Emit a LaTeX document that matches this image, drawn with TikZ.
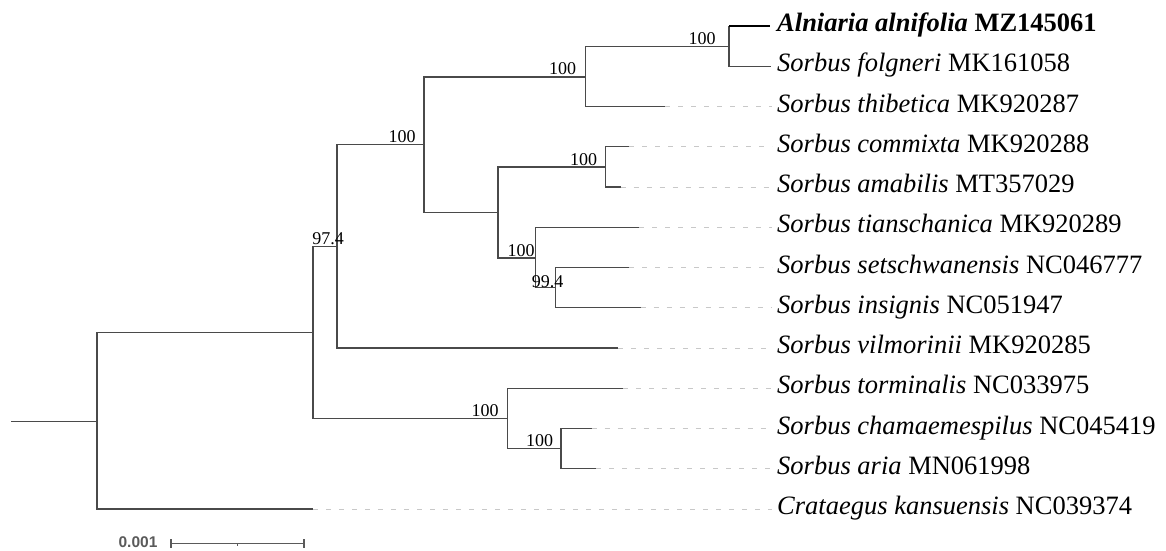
\documentclass[tikz,border=0pt]{standalone}
\usepackage{fontspec}
\setmainfont{Liberation Serif}
\setsansfont{Liberation Sans}
\definecolor{treegray}{HTML}{4A4A4A}
\definecolor{dashgray}{HTML}{C8C8C8}
\definecolor{scalegray}{HTML}{5A5A5A}
\begin{document}
\begin{tikzpicture}[x=1pt,y=-1pt,
  branch/.style={draw=treegray,line width=1.3pt},
  focal/.style={draw=black,line width=2.6pt},
  leader/.style={draw=dashgray,line width=1pt,dash pattern=on 5pt off 8pt,shorten >=5pt},
  taxon/.style={anchor=base west,inner sep=0pt,font=\fontsize{26.5}{30}\selectfont},
  support/.style={anchor=base,inner sep=0pt,font=\fontsize{18}{20}\selectfont},
  scalelab/.style={anchor=base,inner sep=0pt,text=scalegray,font=\sffamily\bfseries\fontsize{15.5}{18}\selectfont},
  scalebar/.style={draw=scalegray,line width=1.1pt}]
\useasboundingbox (0,0) rectangle (1166,550);

% internal nodes
\coordinate (S0) at (11,421.7);
\coordinate (R) at (97,421.7);
\coordinate (B) at (313,332.8);
\coordinate (C) at (337,246.5);
\coordinate (D) at (424,144.8);
\coordinate (E) at (585.7,77);
\coordinate (H) at (729,46.2);
\coordinate (F) at (498,212.6);
\coordinate (I) at (605.7,166.9);
\coordinate (J) at (535.7,258);
\coordinate (K) at (555.5,287.6);
\coordinate (G) at (507.7,418.6);
\coordinate (L) at (561,448.6);

% tip ends
\coordinate (e1) at (770,26);
\coordinate (e2) at (771,66.25);
\coordinate (e3) at (665,106.5);
\coordinate (e4) at (629,146.75);
\coordinate (e5) at (620.7,187);
\coordinate (e6) at (639,227.25);
\coordinate (e7) at (629,267.5);
\coordinate (e8) at (640.7,307.75);
\coordinate (e9) at (618,348);
\coordinate (e10) at (623.3,388.25);
\coordinate (e11) at (591.7,428.5);
\coordinate (e12) at (596,468.75);
\coordinate (e13) at (313,509);

% taxon labels
\node[taxon] (t1) at (777,31.5) {\textbf{\textit{Alniaria alnifolia} MZ145061}};
\node[taxon] (t2) at (777,71.75) {\textit{Sorbus folgneri} MK161058};
\node[taxon] (t3) at (777,112) {\textit{Sorbus thibetica} MK920287};
\node[taxon] (t4) at (777,152.25) {\textit{Sorbus commixta} MK920288};
\node[taxon] (t5) at (777,192.5) {\textit{Sorbus amabilis} MT357029};
\node[taxon] (t6) at (777,232.75) {\textit{Sorbus tianschanica} MK920289};
\node[taxon] (t7) at (777,273) {\textit{Sorbus setschwanensis} NC046777};
\node[taxon] (t8) at (777,313.25) {\textit{Sorbus insignis} NC051947};
\node[taxon] (t9) at (777,353.5) {\textit{Sorbus vilmorinii} MK920285};
\node[taxon] (t10) at (777,393.75) {\textit{Sorbus torminalis} NC033975};
\node[taxon] (t11) at (777,434) {\textit{Sorbus chamaemespilus} NC045419};
\node[taxon] (t12) at (777,474.25) {\textit{Sorbus aria} MN061998};
\node[taxon] (t13) at (777,514.5) {\textit{Crataegus kansuensis} NC039374};

% branches
\draw[branch] (S0) -- (R);
\draw[branch] (R) |- (B);
\draw[branch] (R) |- (e13);
\draw[branch] (B) |- (C);
\draw[branch] (B) |- (G);
\draw[branch] (C) |- (D);
\draw[branch] (C) |- (e9);
\draw[branch] (D) |- (E);
\draw[branch] (D) |- (F);
\draw[branch] (E) |- (H);
\draw[branch] (E) |- (e3);
\draw[branch] (H) |- (e2);
\draw[branch] (H |- e1) -- (H);
\draw[focal,line cap=butt] (H |- e1) -- (e1);
\draw[branch] (F) |- (I);
\draw[branch] (F) |- (J);
\draw[branch] (I) |- (e4);
\draw[branch] (I) |- (e5);
\draw[branch] (J) |- (e6);
\draw[branch] (J) |- (K);
\draw[branch] (K) |- (e7);
\draw[branch] (K) |- (e8);
\draw[branch] (G) |- (e10);
\draw[branch] (G) |- (L);
\draw[branch] (L) |- (e11);
\draw[branch] (L) |- (e12);

% leaders
\foreach \i in {3,...,13}{
  \draw[leader] (e\i) -- (e\i -| t\i.west);
}

% support values
\node[support] (s1) at (702,44) {100};
\node[support] (s2) at (562.5,74.5) {100};
\node[support] (s3) at (402,142.8) {100};
\node[support] (s4) at (328,244.5) {97.4};
\node[support] (s5) at (583.5,165) {100};
\node[support] (s6) at (521,256) {100};
\node[support] (s7) at (547.5,287) {99.4};
\node[support] (s8) at (485,416.8) {100};
\node[support] (s9) at (539.7,446.8) {100};

% scale bar
\coordinate (sb1) at (171,543.2);
\coordinate (sb2) at (304,543.2);
\coordinate (sbm) at (237.7,543.2);
\draw[scalebar] (sb1) -- (sb2);
\draw[scalebar] ([yshift=-4.3pt]sb1) -- ([yshift=4.3pt]sb1);
\draw[scalebar] ([yshift=-4.3pt]sb2) -- ([yshift=4.3pt]sb2);
\draw[scalebar] (sbm) -- ([yshift=-2.5pt]sbm);
\node[scalelab] (sl) at (138,547.8) {0.001};
\end{tikzpicture}
\end{document}
